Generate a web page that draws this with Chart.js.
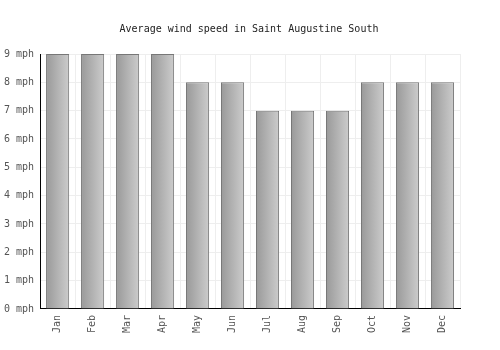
<!DOCTYPE html>
<html>
<head>
<meta charset="utf-8">
<script src="https://cdn.jsdelivr.net/npm/chart.js@4/dist/chart.umd.min.js"></script>
<style>
  html, body { margin: 0; padding: 0; background: #fff; }
  #wrap { width: 500px; height: 350px; }
</style>
</head>
<body>
<div id="wrap"><canvas id="chart"></canvas></div>
<script>
const months = ['Jan', 'Feb', 'Mar', 'Apr', 'May', 'Jun', 'Jul', 'Aug', 'Sep', 'Oct', 'Nov', 'Dec'];
const windSpeed = [9, 9, 9, 9, 8, 8, 7, 7, 7, 8, 8, 8];
const title = 'Average wind speed in Saint Augustine South';
const unit = ' mph';

const CAT_PCT = 0.66;

function barGradient(ctx) {
  const chart = ctx.chart;
  const xs = chart.scales.x;
  if (!chart.chartArea || !xs) return '#aaa';
  const cx = xs.getPixelForValue(ctx.dataIndex);
  const w = xs.width / months.length * CAT_PCT;
  const g = chart.ctx.createLinearGradient(cx - w / 2, 0, cx + w / 2, 0);
  g.addColorStop(0, '#999999');
  g.addColorStop(1, '#cccccc');
  return g;
}

Chart.defaults.font.family = '"DejaVu Sans Mono", monospace';
Chart.defaults.font.size = 10;
Chart.defaults.animation = false;

new Chart(document.getElementById('chart'), {
  type: 'bar',
  data: {
    labels: months,
    datasets: [{
      label: 'Wind speed',
      data: windSpeed,
      backgroundColor: barGradient,
      borderColor: '#777777',
      borderWidth: 1,
      categoryPercentage: CAT_PCT,
      barPercentage: 1,
    }]
  },
  options: {
    responsive: true,
    maintainAspectRatio: false,
    layout: { padding: { left: -2, right: 0, top: 23, bottom: 11 } },
    plugins: {
      legend: { display: false },
      tooltip: { enabled: false },
      title: {
        display: true,
        text: title,
        color: '#222',
        font: { size: 10, weight: 'normal' },
        padding: { top: 0, bottom: 19 },
      },
    },
    scales: {
      x: {
        grid: { color: '#eeeeee', drawTicks: false, offset: true },
        border: { color: '#000', width: 1 },
        ticks: { color: '#555', maxRotation: 90, minRotation: 90, padding: 6 },
      },
      y: {
        min: 0,
        max: 9,
        grid: { color: '#eeeeee', drawTicks: false },
        border: { color: '#000', width: 1 },
        ticks: {
          stepSize: 1,
          color: '#555',
          padding: 6,
          callback: v => v + unit,
        },
      },
      // empty right-hand gutter
      yRight: {
        position: 'right',
        min: 0,
        max: 9,
        grid: { display: false },
        border: { display: false },
        ticks: { display: false },
        afterFit: s => { s.width = 40; },
      },
    },
  },
});
</script>
</body>
</html>
